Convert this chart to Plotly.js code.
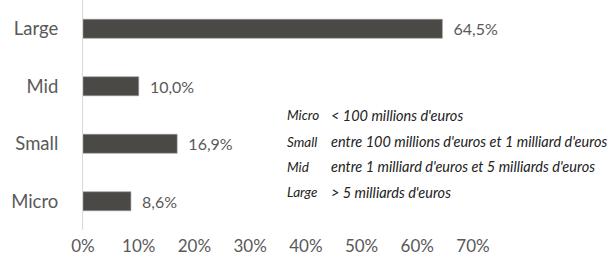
<!DOCTYPE html>
<html><head><meta charset="utf-8">
<script src="https://cdn.plot.ly/plotly-3.0.1.min.js"></script>
<style>html,body{margin:0;padding:0;background:#fff}#c{width:614px;height:266px}</style>
</head><body><div id="c"></div>
<script>
const categories = ["Micro", "Small", "Mid", "Large"];
const values = [8.6, 16.9, 10.0, 64.5];
const tickVals = [0, 10, 20, 30, 40, 50, 60, 70];
const tickText = ["0%", "10%", "20%", "30%", "40%", "50%", "60%", "70%"];
const legendNames = ["Micro", "Small", "Mid", "Large"];
const legendDesc = ["< 100 millions d'euros", "entre 100 millions d'euros et 1 milliard d'euros", "entre 1 milliard d'euros et 5 milliards d'euros", "> 5 milliards d'euros"];

const font = "Lato, 'Open Sans', sans-serif";
const grey = "#595959";
const labels = values.map(v => "  " + v.toFixed(1).replace(".", ",") + "%");

const ann = [];
const ys = [0.5, 0.383, 0.274, 0.165];
legendNames.forEach((n, i) => {
  ann.push({xref: "x", yref: "paper", x: 36.3, y: ys[i], xanchor: "left", yanchor: "middle", showarrow: false,
    text: "<i>" + n + "</i>", font: {family: font, size: 13.5, color: "#222"}});
  ann.push({xref: "x", yref: "paper", x: 44.2, y: ys[i], xanchor: "left", yanchor: "middle", showarrow: false,
    text: "<i>" + legendDesc[i] + "</i>", font: {family: font, size: 14.5, color: "#222"}});
});

Plotly.newPlot("c", [{
  type: "bar", orientation: "h", y: categories, x: values,
  marker: {color: "#4b4946", line: {color: "#9a9896", width: 0.6}},
  width: 0.33,
  text: labels, textposition: "outside", cliponaxis: false,
  textfont: {family: font, size: 16, color: grey},
  hoverinfo: "none"
}], {
  width: 614, height: 266,
  margin: {l: 83, r: 141, t: 0, b: 36, pad: 0},
  paper_bgcolor: "#fff", plot_bgcolor: "#fff",
  showlegend: false,
  xaxis: {range: [0, 70], tickvals: tickVals, ticktext: tickText, showgrid: false, zeroline: false,
    showline: false, ticks: "", ticklabelstandoff: 4, tickfont: {family: font, size: 17, color: grey}},
  yaxis: {type: "category", categoryorder: "array", categoryarray: categories, range: [-0.5, 3.5],
    showgrid: false, zeroline: false, showline: true, linecolor: "#d9d9d9", linewidth: 1,
    ticks: "", ticklabelstandoff: 20, tickfont: {family: font, size: 18.5, color: grey}},
  annotations: ann
}, {staticPlot: true});
</script></body></html>
